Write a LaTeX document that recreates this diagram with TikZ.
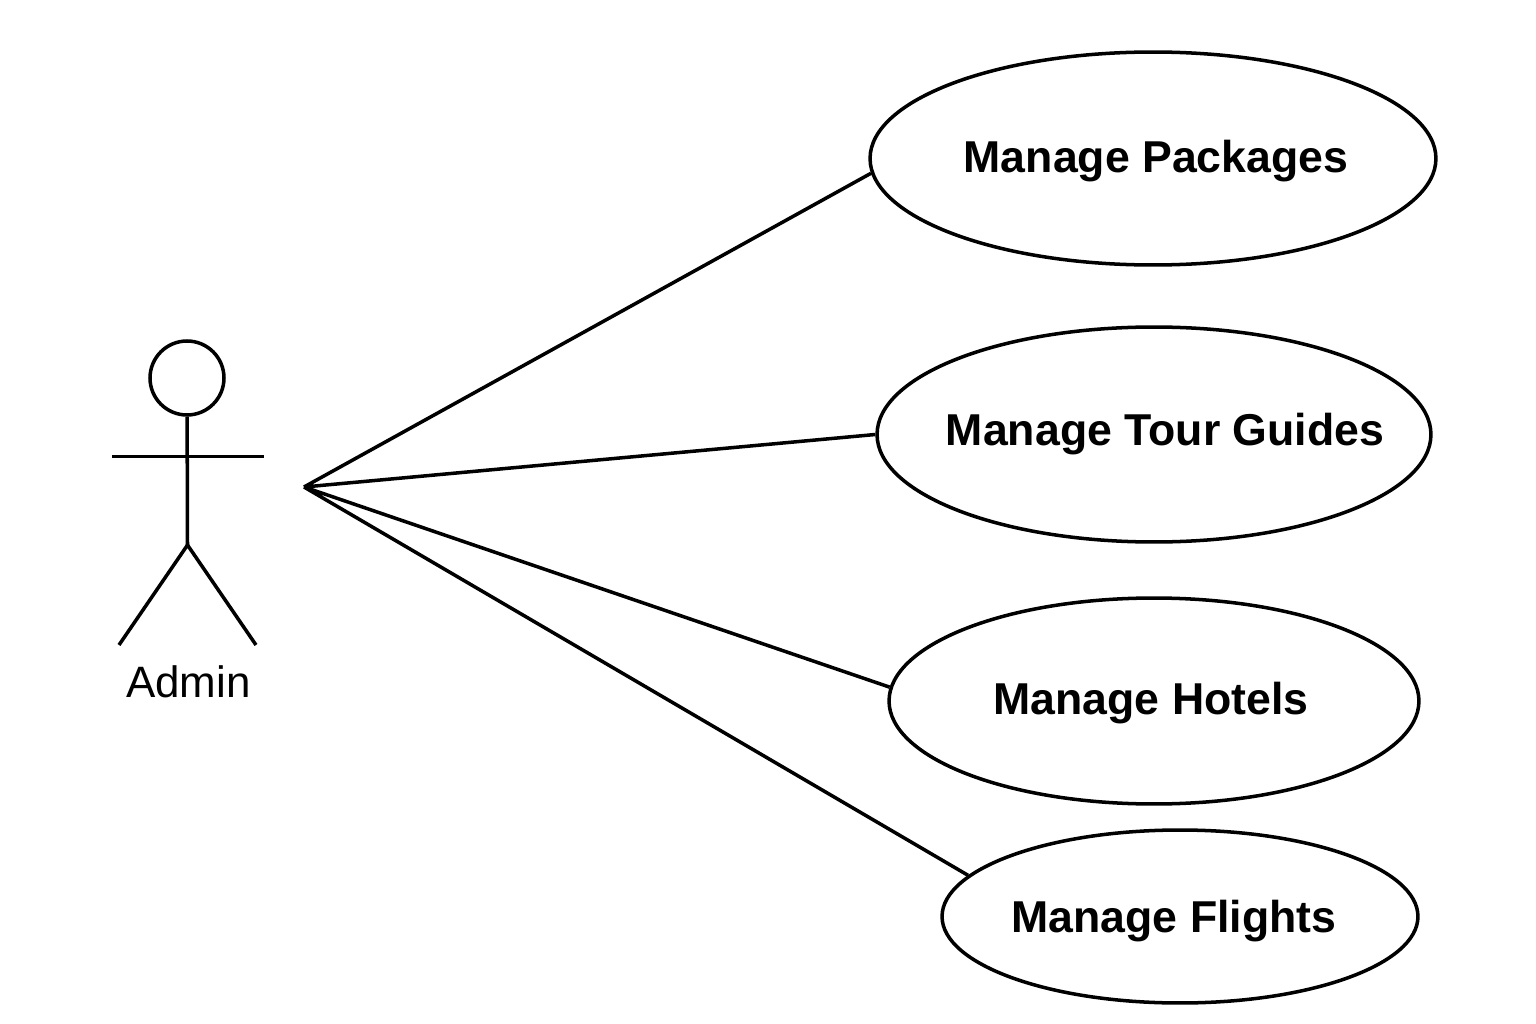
\documentclass[tikz,border=0pt]{standalone}
\usepackage{fontspec}
\setmainfont{Liberation Sans}
\usetikzlibrary{shapes.geometric}
\tikzset{
	usecase/.style={draw,ellipse,line width=2pt,inner sep=0pt},
	caselabel/.style={font=\fontsize{25.4}{30}\selectfont\bfseries,inner sep=0pt},
	actorline/.style={line width=2pt}
}
\begin{document}
\begin{tikzpicture}[x=0.02cm,y=-0.02cm,line width=2pt]
	\useasboundingbox (0,0) rectangle (1536,1024);
	\node[usecase,minimum width=11.32cm,minimum height=4.26cm] (packages) at (1153,158.5) {};
	\node[usecase,minimum width=11.08cm,minimum height=4.3cm] (guides) at (1154,434.5) {};
	\node[usecase,minimum width=10.6cm,minimum height=4.12cm] (hotels) at (1154,701) {};
	\node[usecase,minimum width=9.52cm,minimum height=3.46cm] (flights) at (1180,916.5) {};
	\node[caselabel] (packageslabel) at (1156,161) {Manage Packages};
	\node[caselabel] (guideslabel) at (1165,434) {Manage Tour Guides};
	\node[caselabel] (hotelslabel) at (1151,703) {Manage Hotels};
	\node[caselabel] (flightslabel) at (1174,921) {Manage Flights};
	% actor
	\node[draw,circle,line width=2pt,minimum size=1.48cm,inner sep=0pt] (head) at (187,378) {};
	\coordinate (hip) at (187.5,545);
	\coordinate (armleft) at (112,456.5);
	\coordinate (armright) at (264,456.5);
	\coordinate (legleft) at (119,645);
	\coordinate (legright) at (256,645);
	\coordinate (hub) at (304,487);
	\draw[actorline] (head) -- (hip);
	\draw[actorline] (armleft) -- (armright);
	\draw[actorline] (legleft) -- (hip) -- (legright);
	\node[font=\fontsize{25}{30}\selectfont,inner sep=0pt] (admin) at (188.5,682) {Admin};
	\path[draw,line width=2pt] (hub) -- (packages.183.5)
	(hub) -- (guides.180)
	(hub) -- (hotels.177)
	(hub) -- (flights.169);
\end{tikzpicture}
\end{document}
